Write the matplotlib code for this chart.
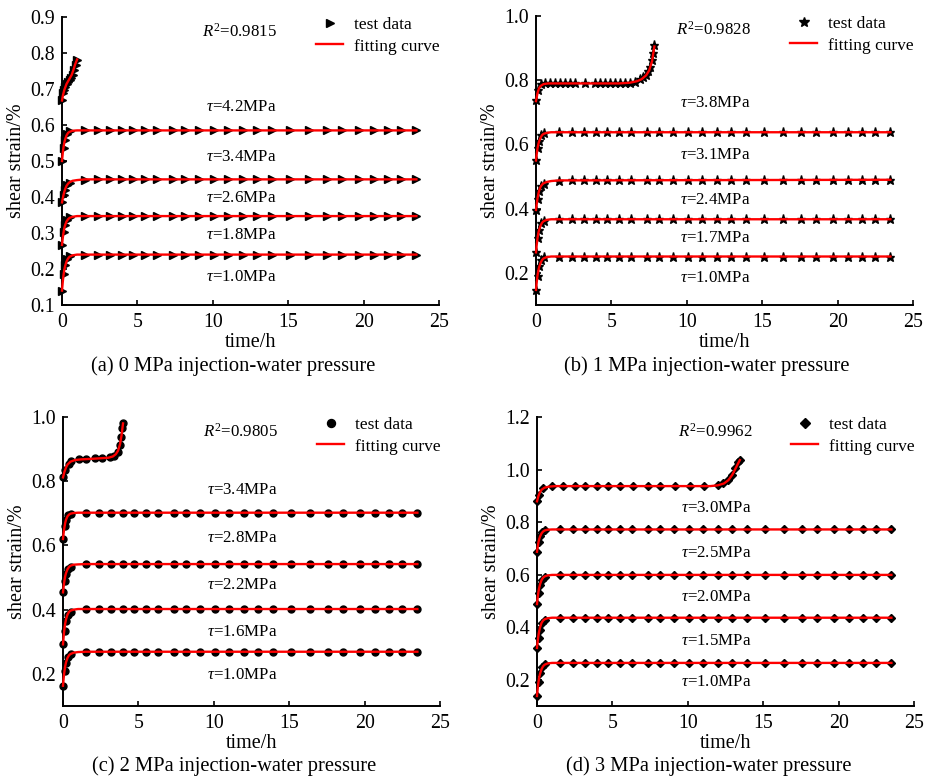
import matplotlib
matplotlib.use('Agg')
import matplotlib.pyplot as plt

plt.rcParams['font.family'] = ['Liberation Serif', 'DejaVu Serif']
plt.rcParams['mathtext.fontset'] = 'custom'
plt.rcParams['mathtext.rm'] = 'Liberation Serif'
plt.rcParams['mathtext.it'] = 'Liberation Serif:italic'
plt.rcParams['mathtext.bf'] = 'Liberation Serif:bold'

# ---------------- shared time grids (h) ----------------
t_long = [0, 0.1, 0.2, 0.35, 0.5, 1.5, 2.4, 3.2, 3.95, 4.7, 5.5, 6.3, 7.35, 8.15, 9.1,
          10.05, 11.0, 12.0, 12.95, 13.95, 15.15, 16.4, 17.6, 18.6, 19.7, 20.7, 21.6, 22.5, 23.45]
t_fit = [0, 0.05, 0.1, 0.15, 0.2, 0.3, 0.4, 0.5, 0.7, 1.0, 1.5, 23.5]

# ---------------- panel (a): 0 MPa ----------------
a_stress = ['1.0', '1.8', '2.6', '3.4', '4.2']
a_test = [
    [0.140, 0.185, 0.210, 0.228, 0.237, 0.240, 0.240, 0.240, 0.240, 0.240, 0.240, 0.240, 0.240, 0.240, 0.240,
     0.240, 0.240, 0.240, 0.240, 0.240, 0.240, 0.240, 0.240, 0.240, 0.240, 0.240, 0.240, 0.240, 0.240],
    [0.267, 0.303, 0.323, 0.337, 0.345, 0.347, 0.347, 0.347, 0.347, 0.347, 0.347, 0.347, 0.347, 0.347, 0.347,
     0.347, 0.347, 0.347, 0.347, 0.347, 0.347, 0.347, 0.347, 0.347, 0.347, 0.347, 0.347, 0.347, 0.347],
    [0.385, 0.405, 0.420, 0.433, 0.440, 0.447, 0.449, 0.449, 0.449, 0.449, 0.449, 0.449, 0.449, 0.449, 0.449,
     0.449, 0.449, 0.449, 0.449, 0.449, 0.449, 0.449, 0.449, 0.449, 0.449, 0.449, 0.449, 0.449, 0.449],
    [0.500, 0.535, 0.558, 0.574, 0.582, 0.585, 0.585, 0.585, 0.585, 0.585, 0.585, 0.585, 0.585, 0.585, 0.585,
     0.585, 0.585, 0.585, 0.585, 0.585, 0.585, 0.585, 0.585, 0.585, 0.585, 0.585, 0.585, 0.585, 0.585],
]
a_fit = [
    [0.140, 0.164, 0.183, 0.197, 0.207, 0.221, 0.229, 0.234, 0.238, 0.240, 0.240, 0.240],
    [0.267, 0.286, 0.301, 0.313, 0.321, 0.332, 0.338, 0.342, 0.345, 0.347, 0.347, 0.347],
    [0.385, 0.396, 0.406, 0.414, 0.421, 0.431, 0.437, 0.441, 0.445, 0.447, 0.449, 0.449],
    [0.500, 0.522, 0.538, 0.551, 0.559, 0.571, 0.578, 0.581, 0.584, 0.585, 0.585, 0.585],
]
a_last_t = [0, 0.05, 0.1, 0.2, 0.3, 0.4, 0.5, 0.6, 0.7, 0.8, 0.9, 1.0]
a_last_y = [0.670, 0.688, 0.697, 0.706, 0.713, 0.720, 0.724, 0.730, 0.740, 0.752, 0.766, 0.780]
a_lastfit_t = [0, 0.05, 0.15, 0.3, 0.45, 0.64, 0.75, 0.86, 1.0]
a_lastfit_y = [0.668, 0.680, 0.697, 0.714, 0.725, 0.739, 0.752, 0.767, 0.782]
a_label_y = [0.179, 0.294, 0.398, 0.512, 0.651]
a_r2 = '0.9815'

# ---------------- panel (b): 1 MPa ----------------
b_stress = ['1.0', '1.7', '2.4', '3.1', '3.8']
b_test = [
    [0.147, 0.190, 0.220, 0.240, 0.248, 0.251, 0.251, 0.251, 0.251, 0.251, 0.251, 0.251, 0.251, 0.251, 0.251,
     0.251, 0.251, 0.251, 0.251, 0.251, 0.251, 0.251, 0.251, 0.251, 0.251, 0.251, 0.251, 0.251, 0.251],
    [0.264, 0.310, 0.335, 0.355, 0.363, 0.367, 0.367, 0.367, 0.367, 0.367, 0.367, 0.367, 0.367, 0.367, 0.367,
     0.367, 0.367, 0.367, 0.367, 0.367, 0.367, 0.367, 0.367, 0.367, 0.367, 0.367, 0.367, 0.367, 0.367],
    [0.396, 0.430, 0.455, 0.470, 0.478, 0.487, 0.490, 0.490, 0.490, 0.490, 0.490, 0.490, 0.490, 0.490, 0.490,
     0.490, 0.490, 0.490, 0.490, 0.490, 0.490, 0.490, 0.490, 0.490, 0.490, 0.490, 0.490, 0.490, 0.490],
    [0.550, 0.590, 0.612, 0.628, 0.635, 0.638, 0.638, 0.638, 0.638, 0.638, 0.638, 0.638, 0.638, 0.638, 0.638,
     0.638, 0.638, 0.638, 0.638, 0.638, 0.638, 0.638, 0.638, 0.638, 0.638, 0.638, 0.638, 0.638, 0.638],
]
b_fit = [
    [0.147, 0.172, 0.192, 0.206, 0.217, 0.231, 0.240, 0.245, 0.249, 0.251, 0.251, 0.251],
    [0.264, 0.289, 0.308, 0.323, 0.333, 0.347, 0.356, 0.361, 0.365, 0.367, 0.367, 0.367],
    [0.396, 0.415, 0.432, 0.445, 0.455, 0.468, 0.475, 0.479, 0.483, 0.486, 0.488, 0.490],
    [0.550, 0.571, 0.588, 0.600, 0.609, 0.621, 0.629, 0.633, 0.636, 0.638, 0.638, 0.638],
]
b_last_t = [0, 0.15, 0.33, 0.6, 0.93, 1.26, 1.59, 1.92, 2.25, 2.59, 3.25, 3.9, 4.24, 4.58, 4.9,
            5.24, 5.57, 5.9, 6.23, 6.56, 6.9, 7.1, 7.29, 7.45, 7.56, 7.67, 7.78, 7.85]
b_last_y = [0.738, 0.770, 0.787, 0.790, 0.790, 0.790, 0.790, 0.790, 0.790, 0.790, 0.790, 0.790, 0.790, 0.790,
            0.790, 0.790, 0.790, 0.790, 0.790, 0.796, 0.803, 0.811, 0.816, 0.830, 0.842, 0.863, 0.884, 0.909]
b_lastfit_t = [0, 0.1, 0.2, 0.3, 0.5, 0.8, 1.5, 5.5, 6.2, 6.7, 7.0, 7.3, 7.5, 7.7, 7.85]
b_lastfit_y = [0.735, 0.760, 0.775, 0.782, 0.788, 0.790, 0.790, 0.790, 0.792, 0.797, 0.803, 0.815, 0.830,
               0.860, 0.905]
b_label_y = [0.185, 0.308, 0.427, 0.567, 0.730]
b_r2 = '0.9828'

# ---------------- panel (c): 2 MPa ----------------
c_stress = ['1.0', '1.6', '2.2', '2.8', '3.4']
c_test = [
    [0.163, 0.210, 0.235, 0.252, 0.262, 0.269, 0.269, 0.269, 0.269, 0.269, 0.269, 0.269, 0.269, 0.269, 0.269,
     0.269, 0.269, 0.269, 0.269, 0.269, 0.269, 0.269, 0.269, 0.269, 0.269, 0.269, 0.269, 0.269, 0.269],
    [0.292, 0.335, 0.365, 0.382, 0.393, 0.402, 0.402, 0.402, 0.402, 0.402, 0.402, 0.402, 0.402, 0.402, 0.402,
     0.402, 0.402, 0.402, 0.402, 0.402, 0.402, 0.402, 0.402, 0.402, 0.402, 0.402, 0.402, 0.402, 0.402],
    [0.454, 0.490, 0.512, 0.526, 0.534, 0.542, 0.542, 0.542, 0.542, 0.542, 0.542, 0.542, 0.542, 0.542, 0.542,
     0.542, 0.542, 0.542, 0.542, 0.542, 0.542, 0.542, 0.542, 0.542, 0.542, 0.542, 0.542, 0.542, 0.542],
    [0.620, 0.660, 0.680, 0.694, 0.699, 0.702, 0.702, 0.702, 0.702, 0.702, 0.702, 0.702, 0.702, 0.702, 0.702,
     0.702, 0.702, 0.702, 0.702, 0.702, 0.702, 0.702, 0.702, 0.702, 0.702, 0.702, 0.702, 0.702, 0.702],
]
c_fit = [
    [0.163, 0.190, 0.210, 0.225, 0.236, 0.250, 0.258, 0.262, 0.266, 0.268, 0.269, 0.269],
    [0.292, 0.320, 0.342, 0.358, 0.370, 0.385, 0.393, 0.397, 0.400, 0.402, 0.402, 0.402],
    [0.454, 0.475, 0.492, 0.505, 0.514, 0.526, 0.533, 0.537, 0.540, 0.541, 0.542, 0.542],
    [0.620, 0.642, 0.658, 0.671, 0.680, 0.691, 0.696, 0.699, 0.701, 0.702, 0.702, 0.702],
]
c_last_t = [0, 0.15, 0.38, 0.53, 1.04, 1.55, 2.1, 2.59, 3.14, 3.4, 3.63, 3.76, 3.85, 3.93, 3.98]
c_last_y = [0.814, 0.835, 0.854, 0.863, 0.868, 0.869, 0.871, 0.873, 0.874, 0.879, 0.892, 0.913, 0.939,
            0.965, 0.982]
c_lastfit_t = [0, 0.1, 0.2, 0.3, 0.5, 0.8, 1.2, 2.0, 3.0, 3.3, 3.5, 3.65, 3.78, 3.88, 3.98]
c_lastfit_y = [0.812, 0.830, 0.843, 0.852, 0.861, 0.866, 0.868, 0.870, 0.873, 0.877, 0.884, 0.895, 0.915,
               0.942, 0.980]
c_label_y = [0.197, 0.330, 0.477, 0.624, 0.773]
c_r2 = '0.9805'

# ---------------- panel (d): 3 MPa ----------------
d_stress = ['1.0', '1.5', '2.0', '2.5', '3.0']
d_test = [
    [0.138, 0.190, 0.225, 0.248, 0.258, 0.264, 0.264, 0.264, 0.264, 0.264, 0.264, 0.264, 0.264, 0.264, 0.264,
     0.264, 0.264, 0.264, 0.264, 0.264, 0.264, 0.264, 0.264, 0.264, 0.264, 0.264, 0.264, 0.264, 0.264],
    [0.321, 0.360, 0.390, 0.415, 0.428, 0.436, 0.436, 0.436, 0.436, 0.436, 0.436, 0.436, 0.436, 0.436, 0.436,
     0.436, 0.436, 0.436, 0.436, 0.436, 0.436, 0.436, 0.436, 0.436, 0.436, 0.436, 0.436, 0.436, 0.436],
    [0.488, 0.530, 0.560, 0.580, 0.592, 0.599, 0.599, 0.599, 0.599, 0.599, 0.599, 0.599, 0.599, 0.599, 0.599,
     0.599, 0.599, 0.599, 0.599, 0.599, 0.599, 0.599, 0.599, 0.599, 0.599, 0.599, 0.599, 0.599, 0.599],
    [0.687, 0.725, 0.748, 0.762, 0.768, 0.772, 0.772, 0.772, 0.772, 0.772, 0.772, 0.772, 0.772, 0.772, 0.772,
     0.772, 0.772, 0.772, 0.772, 0.772, 0.772, 0.772, 0.772, 0.772, 0.772, 0.772, 0.772, 0.772, 0.772],
]
d_fit = [
    [0.138, 0.168, 0.192, 0.210, 0.222, 0.240, 0.251, 0.257, 0.262, 0.264, 0.264, 0.264],
    [0.321, 0.349, 0.370, 0.386, 0.399, 0.416, 0.425, 0.430, 0.434, 0.436, 0.436, 0.436],
    [0.488, 0.515, 0.536, 0.551, 0.563, 0.579, 0.588, 0.593, 0.597, 0.599, 0.599, 0.599],
    [0.687, 0.707, 0.724, 0.736, 0.745, 0.757, 0.764, 0.768, 0.771, 0.772, 0.772, 0.772],
]
d_last_t = [0, 0.15, 0.42, 0.97, 1.75, 2.52, 3.18, 3.96, 4.73, 5.5, 6.34, 7.38, 8.16, 9.15, 10.15, 11.07,
            12.02, 12.35, 12.68, 12.9, 13.12, 13.34, 13.45]
d_last_y = [0.879, 0.905, 0.930, 0.937, 0.937, 0.937, 0.937, 0.937, 0.937, 0.937, 0.937, 0.937, 0.937,
            0.937, 0.937, 0.937, 0.942, 0.949, 0.961, 0.980, 1.006, 1.028, 1.037]
d_lastfit_t = [0, 0.1, 0.2, 0.3, 0.5, 0.8, 1.2, 2.0, 11.5, 12.0, 12.4, 12.7, 12.95, 13.2, 13.45]
d_lastfit_y = [0.879, 0.900, 0.914, 0.923, 0.931, 0.935, 0.937, 0.937, 0.937, 0.940, 0.947, 0.960, 0.980,
               1.008, 1.036]
d_label_y = [0.191, 0.349, 0.513, 0.684, 0.854]
d_r2 = '0.9962'

xticks = [0, 5, 10, 15, 20, 25]

panels = [
    dict(rect=[62, 17, 439, 305], ylim=(0.1, 0.9), yticks=[0.1, 0.2, 0.3, 0.4, 0.5, 0.6, 0.7, 0.8, 0.9],
         marker='>', ms=5.5, test=a_test, fit=a_fit, lt=a_last_t, ly=a_last_y, lft=a_lastfit_t, lfy=a_lastfit_y,
         stress=a_stress, label_y=a_label_y, r2=a_r2, r2y=0.859,
         caption='(a) 0 MPa injection-water pressure', cap_xy=(233, 366)),
    dict(rect=[536, 16, 913, 305], ylim=(0.1, 1.0), yticks=[0.2, 0.4, 0.6, 0.8, 1.0],
         marker='*', ms=6.5, test=b_test, fit=b_fit, lt=b_last_t, ly=b_last_y, lft=b_lastfit_t, lfy=b_lastfit_y,
         stress=b_stress, label_y=b_label_y, r2=b_r2, r2y=0.956,
         caption='(b) 1 MPa injection-water pressure', cap_xy=(707, 366)),
    dict(rect=[63, 417, 440, 706], ylim=(0.1, 1.0), yticks=[0.2, 0.4, 0.6, 0.8, 1.0],
         marker='o', ms=5, test=c_test, fit=c_fit, lt=c_last_t, ly=c_last_y, lft=c_lastfit_t, lfy=c_lastfit_y,
         stress=c_stress, label_y=c_label_y, r2=c_r2, r2y=0.954,
         caption='(c) 2 MPa injection-water pressure', cap_xy=(234, 766)),
    dict(rect=[537, 417, 914, 706], ylim=(0.1, 1.2), yticks=[0.2, 0.4, 0.6, 0.8, 1.0, 1.2],
         marker='D', ms=4.2, test=d_test, fit=d_fit, lt=d_last_t, ly=d_last_y, lft=d_lastfit_t, lfy=d_lastfit_y,
         stress=d_stress, label_y=d_label_y, r2=d_r2, r2y=1.144,
         caption='(d) 3 MPa injection-water pressure', cap_xy=(709, 766)),
]

W, H = 929, 779
fig = plt.figure(figsize=(W / 100, H / 100), dpi=100)

for p in panels:
    x0, y0, x1, y1 = p['rect']
    ax = fig.add_axes([x0 / W, 1 - y1 / H, (x1 - x0) / W, (y1 - y0) / H])
    for ys, fs in zip(p['test'], p['fit']):
        ax.plot(t_long, ys, linestyle='none', marker=p['marker'], ms=p['ms'], color='black',
                clip_on=False, zorder=3)
        ax.plot(t_fit, fs, color='#ff0000', lw=1.7, clip_on=False, zorder=4)
    hm, = ax.plot(p['lt'], p['ly'], linestyle='none', marker=p['marker'], ms=p['ms'], color='black',
                  clip_on=False, zorder=3, label='test data')
    hl, = ax.plot(p['lft'], p['lfy'], color='#ff0000', lw=1.7, clip_on=False, zorder=4, label='fitting curve')

    for s, yy in zip(p['stress'], p['label_y']):
        ax.text(11.9, yy, r'$τ$=' + s + 'MPa', ha='center', va='center', fontsize=12.2)
    ax.text(11.8, p['r2y'], r'$R^2$=' + p['r2'], ha='center', va='center', fontsize=12.2)

    ax.set_xlim(0, 25)
    ax.set_ylim(*p['ylim'])
    ax.set_xticks(xticks)
    ax.set_xticklabels([str(v) for v in xticks])
    ax.set_yticks(p['yticks'])
    ax.set_yticklabels(['%.1f' % v for v in p['yticks']])
    for side in ('top', 'right'):
        ax.spines[side].set_visible(False)
    for side in ('left', 'bottom'):
        ax.spines[side].set_linewidth(1.4)
    ax.tick_params(direction='in', length=3.5, width=1.2, labelsize=14.3)
    ax.tick_params(axis='y', pad=5)
    ax.tick_params(axis='x', pad=5.5)
    ax.set_xlabel('time/h', fontsize=14.5, labelpad=1)
    ax.set_ylabel('shear strain/%', fontsize=14.5, labelpad=3)

    ax.legend(handles=[hm, hl], loc='upper left', bbox_to_anchor=(0.674, 1.0), frameon=False,
              fontsize=12.5, handlelength=1.55, handletextpad=0.65, labelspacing=0.3,
              borderpad=0, borderaxespad=0, markerscale=1.15)

    fig.text(p['cap_xy'][0] / W, 1 - p['cap_xy'][1] / H, p['caption'], ha='center', va='center',
             fontsize=14.8)

fig.savefig('out.png', dpi=100)
